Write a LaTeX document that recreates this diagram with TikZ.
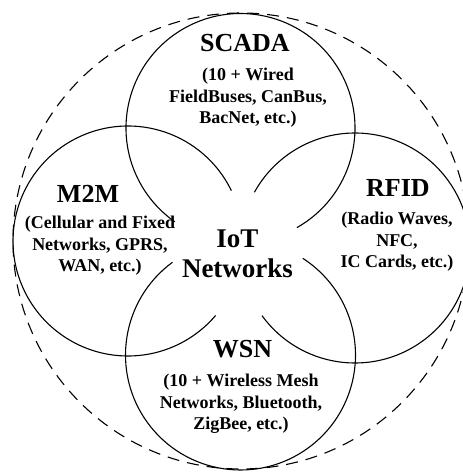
\documentclass[tikz,border=0pt]{standalone}
\usepackage{fontspec}
\setmainfont{Liberation Serif}
\begin{document}
\begin{tikzpicture}[x=1pt,y=1pt,
  ring/.style={draw=black,line width=1.1pt},
  outer/.style={draw=black,line width=1.1pt,dash pattern=on 12pt off 8pt},
  title/.style={font=\bfseries\fontsize{26}{28}\selectfont,inner sep=0pt,anchor=base},
  sub/.style={font=\bfseries\fontsize{18}{21.5}\selectfont,inner sep=0pt,anchor=base,align=center},
  core/.style={font=\bfseries\fontsize{27}{30}\selectfont,inner sep=0pt,anchor=base,align=center}]
\useasboundingbox (0,0) rectangle (463,472);
\clip (0,0) rectangle (463,472);
\coordinate (cS) at (240.5,344);
\coordinate (cM) at (128,231);
\coordinate (cR) at (355,224);
\coordinate (cW) at (240.5,117);
\coordinate (cO) at (241,231);
% outer dashed circle
\draw[outer] (cO) circle[radius=228];
% four circles with gaps toward the centre
\draw[ring] (cS) ++(-60.5:114.5) arc[start angle=-60.5,end angle=235,radius=114.5];
\draw[ring] (cM) ++(26:115) arc[start angle=26,end angle=319.6,radius=115];
\draw[ring] (cR) ++(-144:115) arc[start angle=-144,end angle=151,radius=115];
\draw[ring] (cW) ++(126.3:115) arc[start angle=126.3,end angle=417.2,radius=115];
% texts (multi-line nodes: base = baseline of last line)
\node[title] (tS) at (245,420) {SCADA};
\node[sub] (sS) at (248,348) {(10 + Wired\\FieldBuses, CanBus,\\BacNet, etc.)};
\node[title] (tM) at (88,269) {M2M};
\node[sub] (sM) at (100,200) {(Cellular and Fixed\\Networks, GPRS,\\WAN, etc.)};
\node[title] (tR) at (398,275) {RFID};
\node[sub] (sR) at (397,204) {(Radio Waves,\\NFC,\\IC Cards, etc.)};
\node[title] (tW) at (242.5,114) {WSN};
\node[sub] (sW) at (241,42) {(10 + Wireless Mesh\\Networks, Bluetooth,\\ZigBee, etc.)};
\node[core] (iot) at (237.5,194) {IoT\\Networks};
\end{tikzpicture}
\end{document}
